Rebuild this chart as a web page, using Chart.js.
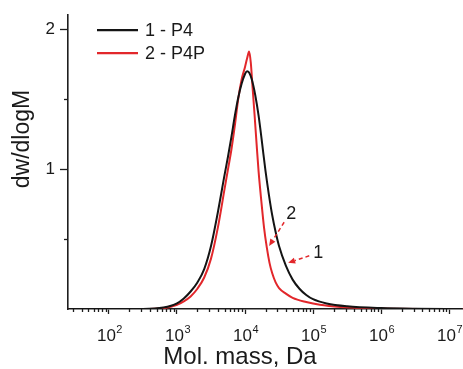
<!DOCTYPE html>
<html>
<head>
<meta charset="utf-8">
<script src="https://cdn.jsdelivr.net/npm/chart.js@4.4.0/dist/chart.umd.min.js"></script>
<style>
    html, body { margin: 0; padding: 0; background: #fff; }
    canvas { display: block; }
</style>
</head>
<body>
<canvas id="mwdChart" width="463" height="369"></canvas>
<script>
// curve data (log10 of mass, dw/dlogM)
const seriesNames = ['1 - P4', '2 - P4P'];
const seriesColors = ['#141414', '#e2272b'];

const logMassP4 = [1.4, 2.5, 2.8, 3.0, 3.1, 3.2, 3.3, 3.4, 3.5, 3.6, 3.7, 3.75, 3.8, 3.85, 3.9, 3.95, 4.0, 4.03, 4.06, 4.1, 4.15, 4.2, 4.25, 4.3, 4.35, 4.4, 4.45, 4.5, 4.6, 4.7, 4.8, 4.9, 5.0, 5.2, 5.5, 6.0, 6.5, 7.2];
const dwP4 = [0, 0, 0.01, 0.04, 0.075, 0.125, 0.19, 0.285, 0.45, 0.69, 0.96, 1.09, 1.23, 1.38, 1.51, 1.61, 1.68, 1.70, 1.69, 1.64, 1.53, 1.38, 1.19, 0.99, 0.82, 0.67, 0.55, 0.45, 0.31, 0.21, 0.145, 0.10, 0.07, 0.04, 0.02, 0.007, 0.002, 0];

const logMassP4P = [1.4, 2.5, 2.8, 3.0, 3.1, 3.2, 3.3, 3.4, 3.5, 3.6, 3.7, 3.75, 3.8, 3.85, 3.9, 3.95, 4.0, 4.03, 4.06, 4.085, 4.11, 4.14, 4.17, 4.2, 4.24, 4.28, 4.32, 4.36, 4.4, 4.45, 4.5, 4.6, 4.7, 4.9, 5.1, 5.4, 6.0, 7.2];
const dwP4P = [0, 0, 0.006, 0.03, 0.055, 0.09, 0.145, 0.225, 0.36, 0.58, 0.86, 1.0, 1.14, 1.31, 1.50, 1.64, 1.73, 1.79, 1.84, 1.76, 1.59, 1.39, 1.18, 0.98, 0.77, 0.58, 0.44, 0.33, 0.255, 0.19, 0.15, 0.11, 0.08, 0.05, 0.03, 0.015, 0.004, 0];

// axes
const xRange = [25, 1.6e7];
const yRange = [0, 2.1];
const xTickValues = [1e2, 1e3, 1e4, 1e5, 1e6, 1e7];
const xTickBase = '10';
const xTickExponents = ['2', '3', '4', '5', '6', '7'];
const yTickValues = [0, 0.5, 1, 1.5, 2];
const yTickLabels = ['', '', '1', '', '2'];
const xTitle = 'Mol. mass, Da';
const yTitle = 'dw/dlogM';

// curve labels with dashed arrows (log10 mass, dw)
const notes = [
    { text: '2', at: [4.68, 0.68], from: [4.575, 0.62], to: [4.354, 0.45] },
    { text: '1', at: [5.077, 0.40], from: [4.944, 0.38], to: [4.634, 0.33] }
];

const FONT = '"Liberation Sans", Arial, sans-serif';
const AXIS_COLOR = '#1e1e1e';
const TEXT_COLOR = '#1a1a1a';

function toPoints(logs, values) {
    return logs.map((lg, i) => ({ x: Math.pow(10, lg), y: values[i] }));
}

function allXTicks() {
    const out = [];
    for (let n = 1; n <= 7; n++) {
        for (let k = 1; k <= 9; k++) {
            const v = k * Math.pow(10, n);
            if (v >= xRange[0] && v <= xRange[1]) out.push(v);
        }
    }
    return out;
}

function isMajorX(v) {
    return xTickValues.some(t => Math.abs(t - v) / t < 1e-9);
}

// minor ticks, x tick labels, legend, titles and arrows
const extrasPlugin = {
    id: 'extras',
    afterDraw(chart) {
        const ctx = chart.ctx;
        const xs = chart.scales.x;
        const ys = chart.scales.y;
        const area = chart.chartArea;
        ctx.save();

        // minor ticks
        ctx.strokeStyle = AXIS_COLOR;
        ctx.lineWidth = 1.3;
        allXTicks().filter(v => !isMajorX(v)).forEach(v => {
            const px = Math.round(xs.getPixelForValue(v)) + 0.5;
            ctx.beginPath();
            ctx.moveTo(px, area.bottom);
            ctx.lineTo(px, area.bottom + 3);
            ctx.stroke();
        });
        yTickValues.forEach((v, i) => {
            if (yTickLabels[i] !== '' || v === 0) return;
            const py = Math.round(ys.getPixelForValue(v)) + 0.5;
            ctx.beginPath();
            ctx.moveTo(area.left, py);
            ctx.lineTo(area.left - 4, py);
            ctx.stroke();
        });

        // x tick labels: 10 with raised exponent
        ctx.fillStyle = TEXT_COLOR;
        ctx.textBaseline = 'alphabetic';
        ctx.textAlign = 'left';
        xTickValues.forEach((v, i) => {
            const cx = xs.getPixelForValue(v);
            ctx.font = '17px ' + FONT;
            const wb = ctx.measureText(xTickBase).width;
            ctx.font = '11px ' + FONT;
            const we = ctx.measureText(xTickExponents[i]).width;
            const x0 = cx - (wb + we) / 2 + 0.5;
            ctx.font = '17px ' + FONT;
            ctx.fillText(xTickBase, x0, area.bottom + 32);
            ctx.font = '11px ' + FONT;
            ctx.fillText(xTickExponents[i], x0 + wb + 0.5, area.bottom + 24);
        });

        // legend
        ctx.font = '18px ' + FONT;
        ctx.textBaseline = 'middle';
        chart.data.datasets.forEach((ds, i) => {
            const y = area.top + 15 + i * 23;
            ctx.strokeStyle = ds.borderColor;
            ctx.lineWidth = 2.2;
            ctx.beginPath();
            ctx.moveTo(area.left + 29, y);
            ctx.lineTo(area.left + 70, y);
            ctx.stroke();
            ctx.fillStyle = TEXT_COLOR;
            ctx.fillText(ds.label, area.left + 77, y + 1);
        });

        // axis titles
        ctx.fillStyle = TEXT_COLOR;
        ctx.font = '24px ' + FONT;
        ctx.textAlign = 'center';
        ctx.fillText(xTitle, 240, 357);
        ctx.save();
        ctx.translate(23, 139);
        ctx.rotate(-Math.PI / 2);
        ctx.font = '23px ' + FONT;
        ctx.fillText(yTitle, 0, 0);
        ctx.restore();

        // curve labels with dashed arrows
        notes.forEach(n => {
            const lx = xs.getPixelForValue(Math.pow(10, n.at[0]));
            const ly = ys.getPixelForValue(n.at[1]);
            const fx = xs.getPixelForValue(Math.pow(10, n.from[0]));
            const fy = ys.getPixelForValue(n.from[1]);
            const tx = xs.getPixelForValue(Math.pow(10, n.to[0]));
            const ty = ys.getPixelForValue(n.to[1]);
            ctx.fillStyle = TEXT_COLOR;
            ctx.font = '18px ' + FONT;
            ctx.textAlign = 'center';
            ctx.fillText(n.text, lx, ly);

            const ang = Math.atan2(ty - fy, tx - fx);
            const headLen = 7;
            const bx = tx - headLen * Math.cos(ang);
            const by = ty - headLen * Math.sin(ang);
            ctx.strokeStyle = seriesColors[1];
            ctx.lineWidth = 1.5;
            ctx.setLineDash([4, 3]);
            ctx.beginPath();
            ctx.moveTo(fx, fy);
            ctx.lineTo(bx, by);
            ctx.stroke();
            ctx.setLineDash([]);
            ctx.fillStyle = seriesColors[1];
            ctx.beginPath();
            ctx.moveTo(tx, ty);
            ctx.lineTo(bx + 3 * Math.sin(ang), by - 3 * Math.cos(ang));
            ctx.lineTo(bx - 3 * Math.sin(ang), by + 3 * Math.cos(ang));
            ctx.closePath();
            ctx.fill();
        });

        ctx.restore();
    }
};

function createChart() {
    const ctx = document.getElementById('mwdChart').getContext('2d');

    const data = {
        datasets: [
            {
                label: seriesNames[0],
                data: toPoints(logMassP4, dwP4),
                borderColor: seriesColors[0],
                borderWidth: 2,
                pointRadius: 0,
                cubicInterpolationMode: 'monotone'
            },
            {
                label: seriesNames[1],
                data: toPoints(logMassP4P, dwP4P),
                borderColor: seriesColors[1],
                borderWidth: 2,
                pointRadius: 0,
                cubicInterpolationMode: 'monotone'
            }
        ]
    };

    const config = {
        type: 'line',
        data: data,
        options: {
            responsive: false,
            animation: false,
            layout: { padding: { top: 13, right: 0, left: 0, bottom: 0 } },
            scales: {
                x: {
                    type: 'logarithmic',
                    min: xRange[0],
                    max: xRange[1],
                    afterBuildTicks: scale => {
                        scale.ticks = allXTicks().map(v => ({ value: v }));
                    },
                    afterFit: scale => { scale.height = 60; },
                    ticks: {
                        autoSkip: false,
                        maxRotation: 0,
                        callback: () => ''
                    },
                    grid: {
                        drawOnChartArea: false,
                        tickLength: 5,
                        tickWidth: 1.3,
                        tickColor: c => (c.tick && isMajorX(c.tick.value)) ? AXIS_COLOR : 'rgba(0,0,0,0)'
                    },
                    border: { display: true, color: AXIS_COLOR, width: 1.6 }
                },
                y: {
                    min: yRange[0],
                    max: yRange[1],
                    afterBuildTicks: scale => {
                        scale.ticks = yTickValues.map(v => ({ value: v }));
                    },
                    afterFit: scale => { scale.width = 68; },
                    ticks: {
                        padding: 5,
                        color: TEXT_COLOR,
                        font: { family: FONT, size: 17 },
                        callback: value => {
                            const i = yTickValues.indexOf(value);
                            return i >= 0 ? yTickLabels[i] : '';
                        }
                    },
                    grid: {
                        drawOnChartArea: false,
                        tickLength: 8,
                        tickWidth: 1.3,
                        tickColor: c => {
                            if (!c.tick) return 'rgba(0,0,0,0)';
                            const i = yTickValues.indexOf(c.tick.value);
                            return (i >= 0 && yTickLabels[i] !== '') ? AXIS_COLOR : 'rgba(0,0,0,0)';
                        }
                    },
                    border: { display: true, color: AXIS_COLOR, width: 1.6 }
                }
            },
            plugins: {
                legend: { display: false },
                tooltip: { enabled: false }
            }
        },
        plugins: [extrasPlugin]
    };

    new Chart(ctx, config);
}

document.addEventListener('DOMContentLoaded', createChart);
</script>
</body>
</html>
